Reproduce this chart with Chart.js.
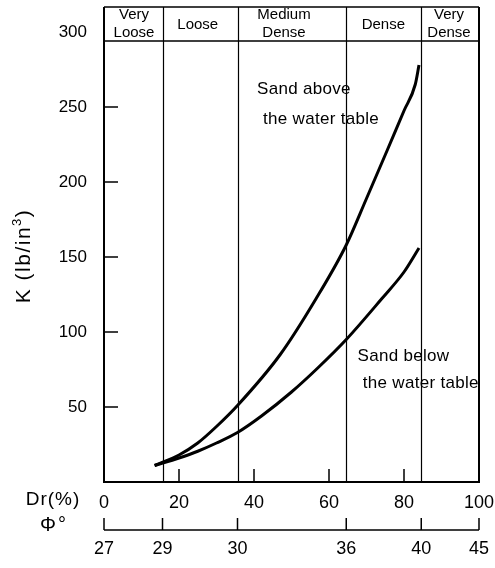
<!DOCTYPE html>
<html lang="en">
<head>
  <meta charset="UTF-8" />
  <title>K vs relative density</title>
  <script src="https://cdn.jsdelivr.net/npm/chart.js@4.4.1/dist/chart.umd.min.js"></script>
  <style>
    *{margin:0;padding:0;box-sizing:border-box}
    body{background:#fff}
    .wrap{position:relative;width:495px;height:568px}
  </style>
</head>
<body>
  <div class="wrap"><canvas id="chart"></canvas></div>

  <script>
    // Data (Dr in %, K in lb/in^3)
    const aboveDr = [13.5, 20, 25, 30, 35.6, 47, 56.5, 64.6, 70, 75.5, 80, 83, 84];
    const aboveK  = [11, 18, 26, 37, 51, 85, 122, 158, 189, 221, 247.5, 265, 278];
    const belowDr = [13.5, 20, 25, 30, 35.6, 42, 50, 57, 64.6, 74, 80, 84];
    const belowK  = [11, 16, 20.5, 26, 33, 44, 60, 76, 95, 122, 140, 156];

    // density zones along Dr, and matching friction angles
    const zoneBounds = [0, 15.6, 35.6, 64.6, 84.6, 100];
    const zoneNames = [['Very', 'Loose'], ['Loose'], ['Medium', 'Dense'], ['Dense'], ['Very', 'Dense']];
    const zoneLabelAt = [8, 25, 48, 74.5, 92];
    const phiLabels = ['27', '29', '30', '36', '40', '45'];

    const drTicks = [0, 20, 40, 60, 80, 100];
    const kTicks = [50, 100, 150, 200, 250, 300];

    const FONT = '"Liberation Sans", Arial, sans-serif';
    Chart.defaults.color = '#000';
    Chart.defaults.font.family = FONT;

    const toPts = (xs, ys) => xs.map((v, i) => ({x: v, y: ys[i]}));

    const overlay = {
      id: 'overlay',
      afterDraw(chart) {
        const {ctx, chartArea: a, scales: {x, y}} = chart;
        const hTop = a.top - 25, hBot = a.top + 9;
        ctx.save();
        ctx.strokeStyle = '#000';
        ctx.fillStyle = '#000';

        // frame
        ctx.lineWidth = 2;
        ctx.beginPath();
        ctx.moveTo(a.left, hTop); ctx.lineTo(a.left, a.bottom); ctx.lineTo(a.right, a.bottom); ctx.lineTo(a.right, hTop);
        ctx.stroke();
        ctx.lineWidth = 1.5;
        ctx.beginPath();
        ctx.moveTo(a.left, hTop); ctx.lineTo(a.right, hTop);
        ctx.moveTo(a.left, hBot); ctx.lineTo(a.right, hBot);
        ctx.stroke();

        // zone dividers
        ctx.lineWidth = 1.2;
        ctx.beginPath();
        zoneBounds.slice(1, -1).forEach(v => {
          const px = Math.round(x.getPixelForValue(v)) + 0.5;
          ctx.moveTo(px, hTop); ctx.lineTo(px, a.bottom);
        });
        ctx.stroke();

        // inward ticks
        ctx.lineWidth = 1.5;
        ctx.beginPath();
        kTicks.filter(v => v < 300).forEach(v => {
          const py = y.getPixelForValue(v);
          ctx.moveTo(a.left, py); ctx.lineTo(a.left + 14, py);
        });
        drTicks.filter(v => v > 0 && v < 100).forEach(v => {
          const px = x.getPixelForValue(v);
          ctx.moveTo(px, a.bottom); ctx.lineTo(px, a.bottom - 13);
        });
        ctx.stroke();

        // zone names
        ctx.font = '15px ' + FONT;
        ctx.textAlign = 'center';
        ctx.textBaseline = 'middle';
        zoneNames.forEach((lines, i) => {
          const cx = x.getPixelForValue(zoneLabelAt[i]);
          if (lines.length === 1) {
            ctx.fillText(lines[0], cx, (hTop + hBot) / 2 + 1);
          } else {
            ctx.fillText(lines[0], cx, hTop + 8);
            ctx.fillText(lines[1], cx, hBot - 8);
          }
        });

        // curve notes
        ctx.font = '17px ' + FONT;
        ctx.textAlign = 'left';
        ctx.letterSpacing = '0.3px';
        ctx.fillText('Sand above', x.getPixelForValue(40.8), y.getPixelForValue(261.5));
        ctx.fillText('the water table', x.getPixelForValue(42.4), y.getPixelForValue(242));
        ctx.fillText('Sand below', x.getPixelForValue(67.6), y.getPixelForValue(84));
        ctx.fillText('the water table', x.getPixelForValue(69), y.getPixelForValue(66));

        // axis captions
        ctx.textAlign = 'center';
        ctx.font = '19px ' + FONT;
        ctx.letterSpacing = '1px';
        ctx.fillText('Dr(%)', 53, a.bottom + 18);
        ctx.font = '20px ' + FONT;
        ctx.letterSpacing = '2px';
        ctx.fillText('\u03A6\u00B0', 54, a.bottom + 43);

        // y title with a real superscript
        ctx.save();
        ctx.translate(24, 256);
        ctx.rotate(-Math.PI / 2);
        ctx.letterSpacing = '1.5px';
        ctx.textAlign = 'left';
        const big = '21px ' + FONT, small = '13px ' + FONT;
        ctx.font = big; const w1 = ctx.measureText('K (lb/in').width;
        ctx.font = small; const w2 = ctx.measureText('3').width;
        ctx.font = big; const w3 = ctx.measureText(')').width;
        let tx = -(w1 + w2 + w3) / 2;
        ctx.fillText('K (lb/in', tx, 0); tx += w1;
        ctx.font = small; ctx.fillText('3', tx, -7); tx += w2;
        ctx.font = big; ctx.fillText(')', tx, 0);
        ctx.restore();

        // friction angle axis
        const pBase = a.bottom + 48;
        ctx.lineWidth = 1.5;
        ctx.beginPath();
        ctx.moveTo(a.left, pBase); ctx.lineTo(a.right, pBase);
        zoneBounds.forEach(v => {
          const px = x.getPixelForValue(v);
          ctx.moveTo(px, pBase); ctx.lineTo(px, pBase - 12);
        });
        ctx.stroke();
        ctx.font = '18px ' + FONT;
        ctx.letterSpacing = '0px';
        zoneBounds.forEach((v, i) => {
          ctx.fillText(phiLabels[i], x.getPixelForValue(v), pBase + 19);
        });
        ctx.restore();
      }
    };

    new Chart(document.getElementById('chart'), {
      type: 'scatter',
      data: {
        datasets: [
          {label: 'Sand above the water table', data: toPts(aboveDr, aboveK)},
          {label: 'Sand below the water table', data: toPts(belowDr, belowK)}
        ]
      },
      options: {
        responsive: true,
        maintainAspectRatio: false,
        animation: false,
        showLine: true,
        layout: {padding: {top: 32, right: 0, bottom: 56, left: 0}},
        elements: {
          point: {radius: 0},
          line: {borderColor: '#000', borderWidth: 3, cubicInterpolationMode: 'monotone'}
        },
        plugins: {legend: {display: false}, tooltip: {enabled: false}},
        scales: {
          x: {
            type: 'linear', min: 0, max: 100,
            afterBuildTicks: s => { s.ticks = drTicks.map(v => ({value: v})); },
            afterFit: s => { s.height = 30; s.paddingLeft = 0; s.paddingRight = 16; },
            grid: {display: false, drawTicks: false},
            border: {display: false},
            ticks: {padding: 10, font: {size: 18}}
          },
          y: {
            type: 'linear', min: 0, max: 300,
            afterBuildTicks: s => { s.ticks = kTicks.map(v => ({value: v})); },
            afterFit: s => { s.width = 104; },
            grid: {display: false, drawTicks: false},
            border: {display: false},
            ticks: {padding: 17, font: {size: 17}}
          }
        }
      },
      plugins: [overlay]
    });
  </script>
</body>
</html>
